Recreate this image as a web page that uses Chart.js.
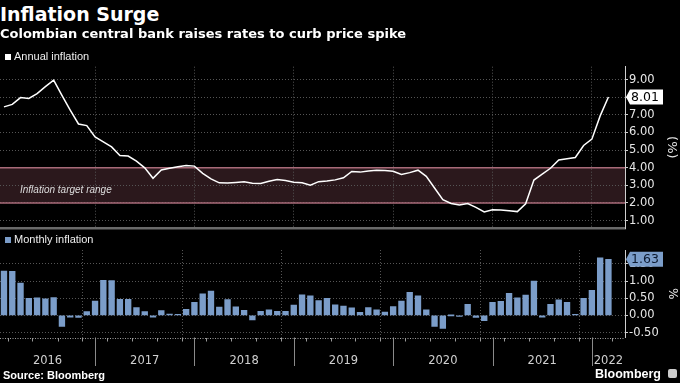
<!DOCTYPE html>
<html><head><meta charset="utf-8">
<script src="https://cdn.jsdelivr.net/npm/chart.js@4.4.1/dist/chart.umd.min.js"></script>
<style>
html,body{margin:0;padding:0;background:#000;width:680px;height:383px;overflow:hidden;}
.t{position:absolute;color:#fff;white-space:nowrap;}
canvas{position:absolute;left:0;}
.sq{position:absolute;width:6px;height:6px;}
</style></head><body>
<canvas id="c1" width="680" height="172" style="top:60px"></canvas>
<canvas id="c2" width="680" height="147" style="top:236px"></canvas>
<div class="t" style="left:0px;top:4.6px;font:bold 19px/19px 'DejaVu Sans';">Inflation Surge</div>
<div class="t" style="left:0px;top:27.3px;font:bold 13px/13px 'DejaVu Sans';">Colombian central bank raises rates to curb price spike</div>
<div class="sq" style="left:5px;top:54px;background:#fff"></div>
<div class="t" style="left:14px;top:51.4px;font:11px/11px 'Liberation Sans';color:#eee">Annual inflation</div>
<div class="t" style="left:20px;top:184.8px;font:italic 10px/10px 'Liberation Sans';color:#ddd">Inflation target range</div>
<div class="sq" style="left:5px;top:237px;background:#7a9cc8"></div>
<div class="t" style="left:14px;top:234px;font:11px/11px 'Liberation Sans';color:#eee">Monthly inflation</div>
<div class="t" style="left:3px;top:369.7px;font:bold 11px/11px 'Liberation Sans';color:#fff">Source: Bloomberg</div>
<div class="t" style="left:595px;top:367.7px;font:bold 12.5px/12.5px 'Liberation Sans';color:#fff">Bloomberg</div>
<div style="position:absolute;left:668px;top:369px;width:9px;height:9px;background:#ccc;border-radius:2px"></div>
<script>
// ---- data ----
const months = [
 '2016-01','2016-02','2016-03','2016-04','2016-05','2016-06','2016-07','2016-08','2016-09','2016-10','2016-11','2016-12',
 '2017-01','2017-02','2017-03','2017-04','2017-05','2017-06','2017-07','2017-08','2017-09','2017-10','2017-11','2017-12',
 '2018-01','2018-02','2018-03','2018-04','2018-05','2018-06','2018-07','2018-08','2018-09','2018-10','2018-11','2018-12',
 '2019-01','2019-02','2019-03','2019-04','2019-05','2019-06','2019-07','2019-08','2019-09','2019-10','2019-11','2019-12',
 '2020-01','2020-02','2020-03','2020-04','2020-05','2020-06','2020-07','2020-08','2020-09','2020-10','2020-11','2020-12',
 '2021-01','2021-02','2021-03','2021-04','2021-05','2021-06','2021-07','2021-08','2021-09','2021-10','2021-11','2021-12',
 '2022-01','2022-02'];
const annualInflation = [
 7.45,7.59,7.98,7.93,8.20,8.60,8.97,8.10,7.27,6.48,6.39,5.75,
 5.47,5.18,4.69,4.66,4.37,3.99,3.40,3.87,3.97,4.05,4.12,4.09,
 3.68,3.37,3.14,3.13,3.16,3.20,3.12,3.10,3.23,3.33,3.27,3.18,
 3.15,3.01,3.21,3.25,3.31,3.43,3.79,3.75,3.82,3.86,3.84,3.80,
 3.62,3.72,3.86,3.51,2.85,2.19,1.97,1.88,1.97,1.75,1.49,1.61,
 1.60,1.56,1.51,1.95,3.30,3.63,3.97,4.44,4.51,4.58,5.26,5.62,
 6.94,8.01];
const monthlyInflation = [
 1.29,1.28,0.94,0.50,0.51,0.48,0.52,-0.32,-0.05,-0.06,0.11,0.42,
 1.02,1.01,0.47,0.47,0.23,0.11,-0.05,0.14,0.04,0.02,0.18,0.38,
 0.63,0.71,0.24,0.46,0.25,0.15,-0.13,0.12,0.16,0.12,0.12,0.30,
 0.60,0.57,0.43,0.50,0.31,0.27,0.22,0.09,0.23,0.16,0.10,0.26,
 0.42,0.67,0.57,0.16,-0.32,-0.38,0.00,-0.01,0.32,-0.06,-0.15,0.38,
 0.41,0.64,0.51,0.59,1.00,-0.05,0.32,0.45,0.38,0.01,0.50,0.73,
 1.67,1.63];
const targetRange = [2, 4];
const yearLabels = ['2016','2017','2018','2019','2020','2021','2022'];
const annualTicks = [1,2,3,4,5,6,7,8,9];
const monthlyTicks = [-0.5,0,0.5,1,1.5];

// ---- helpers ----
const X_MIN = 0.52, X_MAX = 76;
function monthPos(m){ const p = m.split('-').map(Number); return (p[0]-2016)*12 + p[1]; }
const annualPts = months.map((m,i)=>({x:monthPos(m), y:annualInflation[i]}));
const monthlyPts = months.map((m,i)=>({x:monthPos(m), y:monthlyInflation[i]}));
const yearBounds = yearLabels.slice(1).map((y,i)=>(i+1)*12);

const FONT = "'DejaVu Sans'";
const GRID = '#555555';

function lastLabel(color, textColor){
  return {
    id:'lastLabel',
    afterDraw(chart){
      const ds = chart.data.datasets[0].data;
      const v = ds[ds.length-1].y;
      const ys = chart.scales.y;
      const y = ys.getPixelForValue(v);
      const x0 = ys.left + 1, h = 15, w = 37;
      const c = chart.ctx;
      c.save();
      c.fillStyle = color;
      c.beginPath();
      c.moveTo(x0, y);
      c.lineTo(x0+4, y-h/2);
      c.lineTo(x0+w, y-h/2);
      c.lineTo(x0+w, y+h/2);
      c.lineTo(x0+4, y+h/2);
      c.closePath();
      c.fill();
      c.fillStyle = textColor;
      c.font = "12.5px " + FONT;
      c.textBaseline = 'middle';
      c.fillText(v.toFixed(2), x0+5, y+0.5);
      c.restore();
    }
  };
}

const bandPlugin = {
  id:'band',
  beforeDraw(chart){
    const {ctx, chartArea:a, scales:{y}} = chart;
    const y1 = y.getPixelForValue(targetRange[1]), y0 = y.getPixelForValue(targetRange[0]);
    ctx.save();
    ctx.fillStyle = '#2b181c';
    ctx.fillRect(a.left, y1, a.right-a.left, y0-y1);
    ctx.restore();
  },
  beforeDatasetsDraw(chart){
    const {ctx, chartArea:a, scales:{y}} = chart;
    ctx.save();
    ctx.strokeStyle = '#a86a78';
    ctx.lineWidth = 1.6;
    targetRange.forEach(v=>{
      const py = y.getPixelForValue(v);
      ctx.beginPath(); ctx.moveTo(a.left, py); ctx.lineTo(a.right, py); ctx.stroke();
    });
    ctx.restore();
  }
};

const dividerPlugin = {
  id:'dividers',
  afterDraw(chart){
    const {ctx, chartArea:a, scales:{x}} = chart;
    ctx.save();
    ctx.strokeStyle = '#8a8a8a';
    ctx.lineWidth = 1;
    yearBounds.forEach(v=>{
      const px = Math.round(x.getPixelForValue(v)) + 0.5;
      ctx.beginPath(); ctx.moveTo(px, a.bottom); ctx.lineTo(px, 130); ctx.stroke();
    });
    // dotted baseline of the bar panel
    ctx.strokeStyle = '#a0a0a0';
    ctx.setLineDash([1,1.5]);
    const by = Math.round(a.bottom) + 0.5;
    ctx.beginPath(); ctx.moveTo(a.left, by); ctx.lineTo(a.right, by); ctx.stroke();
    ctx.restore();
  }
};

function yAxis(min, max, ticks, title, titleFont){
  return {
    position:'right', min, max,
    afterBuildTicks(s){ s.ticks = ticks.map(v=>({value:v})); },
    afterFit(s){ s.width = 55; s.paddingTop = 0; s.paddingBottom = 0; },
    grid:{color:GRID, tickLength:3, tickColor:'#cfcfcf', drawTicks:true},
    border:{display:true, color:'#cfcfcf', width:1, dash:[1,2]},
    ticks:{color:'#e6e6e6', font:{family:FONT, size:11.5}, padding:1, callback:v=>Number(v).toFixed(2)},
    title:{display:true, text:title, color:'#e6e6e6', font:{family:FONT, size:titleFont}, padding:{top:1,bottom:1}}
  };
}

new Chart(document.getElementById('c1'), {
  type:'line',
  data:{datasets:[{data:annualPts, borderColor:'#ffffff', borderWidth:1.5, pointRadius:0, tension:0, fill:false}]},
  options:{
    responsive:false, animation:false, devicePixelRatio:1,
    layout:{padding:{top:6.7, left:0, right:0, bottom:0}},
    plugins:{legend:{display:false}, tooltip:{enabled:false}},
    scales:{
      x:{type:'linear', min:X_MIN, max:X_MAX,
        afterBuildTicks(s){ s.ticks = yearBounds.map(v=>({value:v})); },
        afterFit(s){ s.height = 4; s.paddingLeft = 0; s.paddingRight = 0; },
        grid:{color:GRID, drawTicks:false},
        border:{display:true, color:'#6a6a6a', width:2.5, dash:[1,2]},
        ticks:{display:false}},
      y: yAxis(0.58, 9.73, annualTicks, '(%)', 13)
    }
  },
  plugins:[bandPlugin, lastLabel('#ffffff', '#000000')]
});

// x ticks for bottom chart: quarterly marks + centred year labels
const xTickDefs = [];
for (let q = 3; q <= 75; q += 3) xTickDefs.push({value:q, text:''});
yearLabels.forEach((lab,i)=>{
  const lo = Math.max(X_MIN, i*12), hi = Math.min(X_MAX, (i+1)*12);
  const mid = (lo+hi)/2;
  const ex = xTickDefs.find(t=>Math.abs(t.value-mid)<1e-9);
  if (ex) ex.text = lab; else xTickDefs.push({value:mid, text:lab});
});
xTickDefs.sort((a,b)=>a.value-b.value);

new Chart(document.getElementById('c2'), {
  type:'bar',
  data:{datasets:[{data:monthlyPts, backgroundColor:'#7b9dc9', barThickness:5.7, minBarLength:1, borderWidth:0}]},
  options:{
    responsive:false, animation:false, devicePixelRatio:1,
    layout:{padding:{top:14, left:0, right:0, bottom:0}},
    plugins:{legend:{display:false}, tooltip:{enabled:false}},
    scales:{
      x:{type:'linear', min:X_MIN, max:X_MAX, offset:false,
        afterBuildTicks(s){ s.ticks = xTickDefs.map(t=>({value:t.value})); },
        afterFit(s){ s.height = 45.5; s.paddingLeft = 0; s.paddingRight = 0; },
        grid:{
          color:c=> (c.tick && Math.abs(c.tick.value % 12) < 1e-9) ? GRID : 'rgba(0,0,0,0)',
          tickColor:c=> (c.tick && Math.abs(c.tick.value % 3) < 1e-9) ? '#9a9a9a' : 'rgba(0,0,0,0)',
          tickLength:4, drawTicks:true},
        border:{display:false, dash:[1,2]},
        ticks:{autoSkip:false, maxRotation:0, color:'#d0d0d0', font:{family:FONT, size:11.5}, padding:13,
          callback:(v,i)=> xTickDefs[i] ? xTickDefs[i].text : ''}
      },
      y: yAxis(-0.64, 1.90, monthlyTicks, '%', 12)
    }
  },
  plugins:[dividerPlugin, lastLabel('#7b9dc9', '#0d1a30')]
});
</script>
</body></html>
